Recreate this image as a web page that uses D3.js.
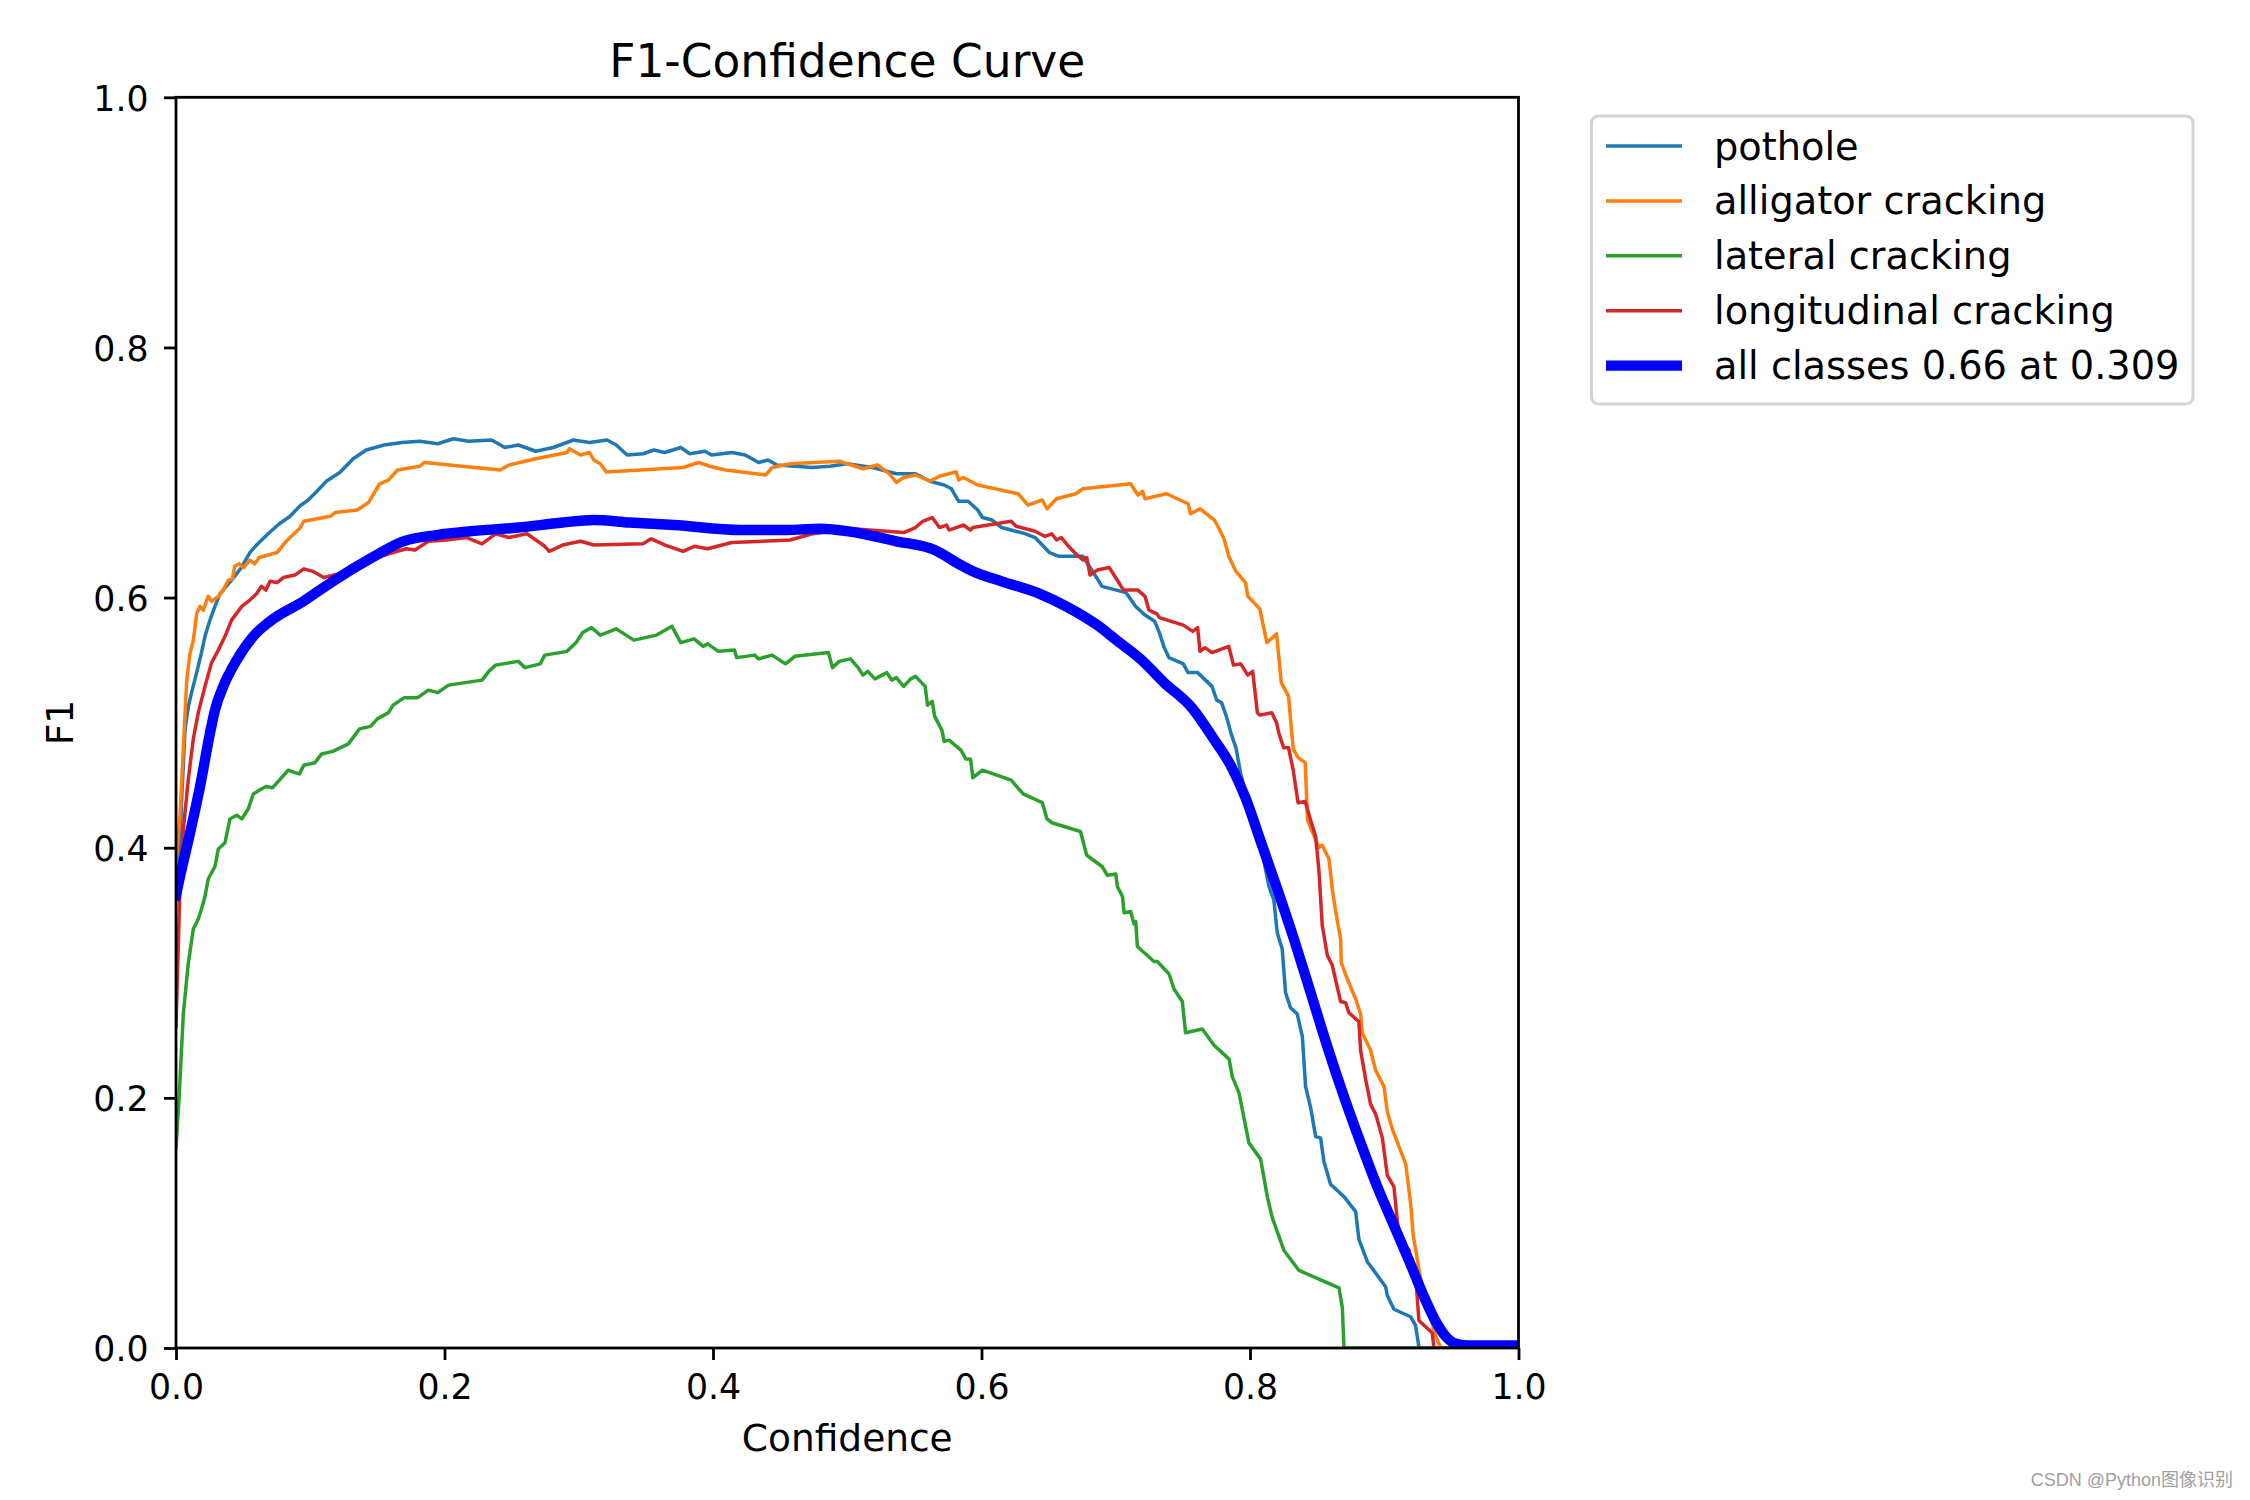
<!DOCTYPE html>
<html>
<head>
<meta charset="utf-8">
<script src="https://cdn.jsdelivr.net/npm/d3@7"></script>
<style>
  html, body { margin: 0; padding: 0; background: #fff; }
  svg { display: block; }
  text { font-family: "DejaVu Sans", sans-serif; fill: #000; }
</style>
</head>
<body>
<svg id="chart" width="2250" height="1500"></svg>
<script>
// ---------------- data ----------------
const chartTitle = "F1-Confidence Curve";
const xLabel = "Confidence";
const yLabel = "F1";
const xTicks = [0, 0.2, 0.4, 0.6, 0.8, 1.0];
const yTicks = [0, 0.2, 0.4, 0.6, 0.8, 1.0];
const classNames = ["pothole", "alligator cracking", "lateral cracking", "longitudinal cracking", "all classes 0.66 at 0.309"];
const classColors = ["#1f77b4", "#ff7f0e", "#2ca02c", "#d62728", "#0000ff"];

const pothole = [
  [0,0.37],[0.0023,0.375],[0.0043,0.441],[0.0067,0.494],[0.0092,0.513],[0.0116,0.524],[0.0154,0.54],[0.019,0.556],
  [0.0216,0.569],[0.0253,0.582],[0.029,0.593],[0.0327,0.603],[0.0414,0.614],[0.0487,0.624],[0.055,0.636],[0.060,0.642],
  [0.0686,0.651],[0.077,0.659],[0.085,0.665],[0.092,0.673],[0.0985,0.678],[0.105,0.685],[0.112,0.693],[0.122,0.70],
  [0.132,0.711],[0.1417,0.718],[0.155,0.722],[0.1683,0.724],[0.1816,0.725],[0.195,0.723],[0.2065,0.727],[0.218,0.725],
  [0.235,0.726],[0.245,0.72],[0.255,0.722],[0.268,0.717],[0.281,0.72],[0.296,0.726],[0.308,0.724],[0.321,0.726],
  [0.328,0.722],[0.336,0.714],[0.348,0.715],[0.356,0.718],[0.364,0.716],[0.376,0.72],[0.3827,0.715],[0.394,0.717],
  [0.399,0.714],[0.414,0.716],[0.424,0.714],[0.434,0.708],[0.441,0.710],[0.4475,0.706],[0.461,0.705],[0.474,0.704],
  [0.487,0.705],[0.50,0.707],[0.5188,0.704],[0.5366,0.699],[0.5509,0.699],[0.5616,0.693],[0.5722,0.69],[0.5776,0.687],
  [0.583,0.677],[0.590,0.677],[0.5972,0.67],[0.6007,0.664],[0.6079,0.662],[0.615,0.656],[0.6328,0.651],[0.6399,0.648],
  [0.6435,0.644],[0.6506,0.636],[0.6577,0.633],[0.6684,0.633],[0.6755,0.633],[0.6827,0.621],[0.6898,0.609],[0.7005,0.606],
  [0.7076,0.604],[0.7147,0.593],[0.7218,0.586],[0.729,0.581],[0.7325,0.572],[0.7361,0.56],[0.7396,0.552],[0.7503,0.547],
  [0.7539,0.54],[0.761,0.54],[0.7717,0.529],[0.7752,0.518],[0.7788,0.516],[0.7824,0.505],[0.786,0.491],[0.7895,0.48],
  [0.7931,0.459],[0.7966,0.444],[0.8073,0.413],[0.8104,0.389],[0.8141,0.369],[0.8178,0.358],[0.8203,0.332],[0.824,0.319],
  [0.8265,0.284],[0.8302,0.272],[0.8352,0.267],[0.839,0.249],[0.8414,0.209],[0.8452,0.192],[0.8489,0.169],[0.8526,0.168],
  [0.8551,0.149],[0.86,0.131],[0.87,0.121],[0.8787,0.109],[0.8811,0.087],[0.8874,0.069],[0.901,0.049],[0.9023,0.042],
  [0.9072,0.031],[0.9196,0.025],[0.9233,0.018],[0.9258,0.001],[0.927,0],[1.0,0]
];

const alligatorCracking = [
  [0,0.388],[0.0031,0.428],[0.0055,0.481],[0.008,0.534],[0.0104,0.555],[0.0129,0.566],[0.0154,0.587],[0.0179,0.593],
  [0.0203,0.59],[0.024,0.601],[0.0265,0.597],[0.0315,0.601],[0.0352,0.606],[0.039,0.614],[0.042,0.615],[0.0437,0.625],
  [0.047,0.627],[0.0503,0.624],[0.055,0.63],[0.0586,0.627],[0.062,0.632],[0.0753,0.636],[0.082,0.645],[0.0919,0.655],
  [0.0952,0.661],[0.115,0.665],[0.1185,0.668],[0.135,0.67],[0.1434,0.676],[0.1517,0.691],[0.1583,0.694],[0.165,0.702],
  [0.1816,0.705],[0.185,0.708],[0.2414,0.702],[0.248,0.706],[0.268,0.711],[0.2913,0.716],[0.293,0.719],[0.3013,0.714],
  [0.308,0.716],[0.3112,0.71],[0.316,0.707],[0.3206,0.7005],[0.3777,0.704],[0.3894,0.708],[0.3976,0.705],[0.4093,0.702],
  [0.4392,0.698],[0.4442,0.704],[0.4575,0.707],[0.494,0.709],[0.5117,0.703],[0.5224,0.706],[0.5313,0.699],[0.5366,0.692],
  [0.542,0.696],[0.5509,0.698],[0.5616,0.693],[0.5687,0.697],[0.5811,0.7005],[0.583,0.694],[0.5865,0.696],[0.5972,0.69],
  [0.6274,0.683],[0.6346,0.674],[0.6453,0.678],[0.6488,0.671],[0.6559,0.679],[0.6702,0.683],[0.6755,0.687],[0.7111,0.691],
  [0.7165,0.682],[0.72,0.685],[0.7218,0.679],[0.7378,0.683],[0.7539,0.675],[0.7557,0.667],[0.7628,0.671],[0.7735,0.662],
  [0.777,0.655],[0.7806,0.647],[0.7842,0.633],[0.7895,0.621],[0.7966,0.612],[0.7984,0.601],[0.8073,0.591],[0.8126,0.564],
  [0.8198,0.571],[0.8233,0.532],[0.8287,0.521],[0.8322,0.479],[0.8358,0.472],[0.8411,0.468],[0.8429,0.422],[0.8514,0.4],
  [0.8538,0.402],[0.8588,0.391],[0.8613,0.367],[0.8638,0.349],[0.8675,0.327],[0.868,0.308],[0.8725,0.295],[0.8787,0.279],
  [0.8824,0.267],[0.8836,0.252],[0.8898,0.238],[0.8936,0.222],[0.8998,0.209],[0.9023,0.189],[0.906,0.175],[0.916,0.147],
  [0.9197,0.115],[0.9216,0.09],[0.9271,0.055],[0.9308,0.038],[0.9345,0.024],[0.9382,0.01],[0.942,0],[1.0,0]
];

const lateralCracking = [
  [0,0.16],[0.0023,0.2],[0.0055,0.268],[0.0092,0.308],[0.0129,0.335],[0.0166,0.343],[0.019,0.351],[0.0216,0.361],
  [0.024,0.375],[0.029,0.385],[0.0315,0.399],[0.0365,0.404],[0.0402,0.423],[0.0452,0.426],[0.049,0.423],[0.0538,0.431],
  [0.0576,0.443],[0.062,0.446],[0.067,0.449],[0.072,0.448],[0.077,0.454],[0.0836,0.462],[0.0885,0.46],[0.0919,0.459],
  [0.0952,0.466],[0.1035,0.468],[0.1085,0.475],[0.1168,0.477],[0.1284,0.483],[0.1367,0.495],[0.145,0.497],[0.15,0.503],
  [0.1583,0.508],[0.1617,0.514],[0.17,0.52],[0.18,0.52],[0.188,0.526],[0.195,0.524],[0.203,0.53],[0.228,0.534],
  [0.233,0.541],[0.238,0.546],[0.255,0.549],[0.26,0.544],[0.2713,0.547],[0.2747,0.554],[0.2913,0.557],[0.298,0.564],
  [0.303,0.572],[0.3096,0.576],[0.316,0.57],[0.328,0.575],[0.341,0.566],[0.358,0.57],[0.3694,0.577],[0.376,0.564],
  [0.386,0.567],[0.3927,0.561],[0.396,0.563],[0.404,0.557],[0.416,0.558],[0.4176,0.552],[0.431,0.554],[0.434,0.551],
  [0.444,0.554],[0.454,0.547],[0.461,0.553],[0.486,0.556],[0.489,0.544],[0.494,0.549],[0.5024,0.551],[0.5081,0.544],
  [0.5117,0.538],[0.5153,0.541],[0.5206,0.535],[0.5295,0.54],[0.5331,0.534],[0.5366,0.536],[0.542,0.529],[0.5473,0.535],
  [0.5509,0.537],[0.558,0.529],[0.5598,0.514],[0.5633,0.517],[0.5651,0.505],[0.5705,0.494],[0.5722,0.485],[0.5758,0.486],
  [0.5847,0.478],[0.5883,0.471],[0.5918,0.471],[0.5936,0.456],[0.6007,0.462],[0.6221,0.454],[0.631,0.443],[0.6453,0.436],
  [0.6488,0.423],[0.6524,0.42],[0.6737,0.413],[0.6784,0.394],[0.6898,0.385],[0.6938,0.378],[0.7,0.379],[0.7012,0.369],
  [0.705,0.361],[0.7062,0.348],[0.7111,0.349],[0.7136,0.339],[0.7149,0.341],[0.7161,0.321],[0.7285,0.309],[0.731,0.309],
  [0.7397,0.299],[0.7434,0.287],[0.7496,0.277],[0.752,0.252],[0.7645,0.255],[0.7732,0.242],[0.7844,0.231],[0.7868,0.217],
  [0.7918,0.204],[0.7992,0.164],[0.8079,0.151],[0.8129,0.121],[0.8166,0.104],[0.8253,0.078],[0.8365,0.062],[0.8663,0.048],
  [0.8688,0.032],[0.87,0],[1.0,0]
];

const longitudinalCracking = [
  [0,0.257],[0.0031,0.375],[0.0055,0.415],[0.0092,0.455],[0.0129,0.487],[0.0166,0.508],[0.0216,0.529],[0.0265,0.548],
  [0.0315,0.558],[0.0365,0.569],[0.0414,0.582],[0.049,0.593],[0.055,0.598],[0.060,0.603],[0.0636,0.609],[0.067,0.606],
  [0.070,0.613],[0.0753,0.612],[0.080,0.616],[0.0885,0.618],[0.0952,0.623],[0.102,0.621],[0.110,0.616],[0.122,0.619],
  [0.132,0.624],[0.145,0.63],[0.1583,0.635],[0.1716,0.639],[0.178,0.638],[0.188,0.645],[0.2015,0.646],[0.2165,0.648],
  [0.228,0.643],[0.238,0.651],[0.248,0.648],[0.2614,0.651],[0.2747,0.641],[0.278,0.637],[0.288,0.642],[0.3013,0.645],
  [0.3112,0.642],[0.3478,0.643],[0.354,0.647],[0.3644,0.642],[0.3777,0.637],[0.386,0.641],[0.396,0.639],[0.414,0.644],
  [0.4575,0.646],[0.474,0.651],[0.504,0.655],[0.542,0.652],[0.5509,0.656],[0.5562,0.661],[0.5633,0.664],[0.5687,0.656],
  [0.574,0.658],[0.5758,0.654],[0.5865,0.658],[0.5918,0.654],[0.5936,0.656],[0.6221,0.661],[0.6257,0.657],[0.6399,0.653],
  [0.647,0.649],[0.6524,0.651],[0.6559,0.646],[0.6595,0.648],[0.6648,0.641],[0.6702,0.635],[0.6755,0.63],[0.6784,0.632],
  [0.6809,0.618],[0.6862,0.622],[0.6951,0.624],[0.7005,0.615],[0.7058,0.606],[0.7165,0.606],[0.7218,0.601],[0.7247,0.59],
  [0.7307,0.587],[0.7325,0.584],[0.7503,0.578],[0.7574,0.573],[0.761,0.576],[0.7628,0.557],[0.7663,0.56],[0.7717,0.556],
  [0.7842,0.561],[0.7877,0.546],[0.7931,0.547],[0.7984,0.538],[0.802,0.541],[0.8055,0.508],[0.8073,0.506],[0.8162,0.508],
  [0.8198,0.5],[0.8216,0.491],[0.8251,0.48],[0.8287,0.48],[0.8322,0.462],[0.8358,0.436],[0.8411,0.437],[0.8452,0.422],
  [0.8489,0.409],[0.8514,0.381],[0.8538,0.338],[0.8576,0.314],[0.8613,0.306],[0.8675,0.277],[0.8712,0.276],[0.8737,0.268],
  [0.8811,0.261],[0.8824,0.238],[0.8861,0.215],[0.8898,0.195],[0.8936,0.187],[0.8986,0.168],[0.9023,0.138],[0.9072,0.129],
  [0.911,0.088],[0.9184,0.078],[0.9209,0.064],[0.9234,0.058],[0.9258,0.022],[0.9358,0.012],[0.937,0],[1.0,0]
];

const allClasses = [
  [0,0.362],[0.003,0.377],[0.0104,0.4115],[0.0179,0.449],[0.0253,0.4915],[0.029,0.510],[0.0352,0.529],[0.0452,0.550],
  [0.0576,0.569],[0.070,0.581],[0.0948,0.597],[0.1197,0.615],[0.1445,0.631],[0.1693,0.645],[0.1942,0.650],[0.219,0.653],
  [0.255,0.656],[0.288,0.66],[0.311,0.662],[0.338,0.66],[0.371,0.658],
  [0.421,0.654],[0.454,0.654],[0.48,0.655],[0.501,0.653],[0.5366,0.645],[0.5651,0.638],[0.583,0.627],[0.5936,0.621],
  [0.615,0.613],[0.6435,0.603],[0.6648,0.592],[0.6862,0.578],[0.7005,0.566],[0.7183,0.551],[0.7361,0.532],[0.7574,0.511],
  [0.7717,0.489],[0.786,0.465],[0.7966,0.44],[0.808,0.405],[0.8203,0.367],[0.8327,0.327],[0.8452,0.284],[0.8576,0.241],
  [0.87,0.201],[0.8824,0.164],[0.8948,0.129],[0.9072,0.098],[0.9196,0.067],[0.9296,0.041],[0.937,0.024],[0.9445,0.011],
  [0.952,0.004],[0.9618,0.002],[1.0,0.002]
];

const seriesList = [pothole, alligatorCracking, lateralCracking, longitudinalCracking, allClasses];
const watermark = "CSDN @Python图像识别";

// ---------------- layout ----------------
const W = 2250, H = 1500;
const plot = { left: 176, right: 1518.5, top: 97.3, bottom: 1348 };

const svg = d3.select("#chart");
svg.append("rect").attr("width", W).attr("height", H).attr("fill", "#fff");

const x = d3.scaleLinear().domain([0, 1]).range([plot.left, plot.right]);
const y = d3.scaleLinear().domain([0, 1]).range([plot.bottom, plot.top]);

svg.append("defs").append("clipPath").attr("id", "plotclip")
  .append("rect")
  .attr("x", plot.left).attr("y", plot.top)
  .attr("width", plot.right - plot.left).attr("height", plot.bottom - plot.top);

// lines
const lineGen = d3.line().x(d => x(d[0])).y(d => y(d[1]));
const smoothGen = d3.line().x(d => x(d[0])).y(d => y(d[1])).curve(d3.curveMonotoneX);

const lines = svg.append("g").attr("clip-path", "url(#plotclip)");
seriesList.forEach((s, i) => {
  const isAll = i === seriesList.length - 1;
  lines.append("path")
    .datum(s)
    .attr("d", isAll ? smoothGen : lineGen)
    .attr("fill", "none")
    .attr("stroke", classColors[i])
    .attr("stroke-width", isAll ? 10.4 : 3.5)
    .attr("stroke-linejoin", "round")
    .attr("stroke-linecap", "square");
});

// axes
const fmt = d3.format(".1f");
const xAxis = svg.append("g")
  .attr("transform", `translate(0,${plot.bottom})`)
  .call(d3.axisBottom(x).tickValues(xTicks).tickFormat(fmt).tickSize(12).tickPadding(0));
const yAxis = svg.append("g")
  .attr("transform", `translate(${plot.left},0)`)
  .call(d3.axisLeft(y).tickValues(yTicks).tickFormat(fmt).tickSize(12).tickPadding(0));

[xAxis, yAxis].forEach(g => {
  g.select(".domain").remove();
  g.selectAll(".tick line").attr("stroke", "#000").attr("stroke-width", 2.8);
  g.selectAll(".tick text")
    .attr("fill", "#000")
    .style("font-family", "'DejaVu Sans', sans-serif")
    .style("font-size", "34.7px");
});
xAxis.selectAll(".tick text").attr("y", 51.3).attr("dy", null);
yAxis.selectAll(".tick text").attr("x", -27.5).attr("dy", null).attr("y", 12.8);

// frame (spines)
svg.append("rect")
  .attr("x", plot.left).attr("y", plot.top)
  .attr("width", plot.right - plot.left).attr("height", plot.bottom - plot.top)
  .attr("fill", "none").attr("stroke", "#000").attr("stroke-width", 2.8);

// title and labels
svg.append("text")
  .attr("x", (plot.left + plot.right) / 2).attr("y", 76.7)
  .attr("text-anchor", "middle").style("font-size", "45.5px")
  .text(chartTitle);
svg.append("text")
  .attr("x", (plot.left + plot.right) / 2).attr("y", 1451)
  .attr("text-anchor", "middle").style("font-size", "37.5px")
  .text(xLabel);
svg.append("text")
  .attr("transform", `translate(72.5,${(plot.top + plot.bottom) / 2}) rotate(-90)`)
  .attr("text-anchor", "middle").style("font-size", "37.5px")
  .text(yLabel);

// legend
const legend = svg.append("g");
legend.append("rect")
  .attr("x", 1591.5).attr("y", 116).attr("width", 601.5).attr("height", 288)
  .attr("rx", 7).attr("ry", 7)
  .attr("fill", "#fff").attr("fill-opacity", 0.8)
  .attr("stroke", "#d4d4d4").attr("stroke-width", 3);
classNames.forEach((name, i) => {
  const cy = 146 + i * 54.9;
  const isAll = i === classNames.length - 1;
  legend.append("line")
    .attr("x1", 1606).attr("x2", 1682).attr("y1", cy).attr("y2", cy)
    .attr("stroke", classColors[i]).attr("stroke-width", isAll ? 10.4 : 3.5)
    .attr("stroke-linecap", "butt");
  legend.append("text")
    .attr("x", 1714).attr("y", cy + 13.5)
    .style("font-size", "38.3px")
    .text(name);
});

// watermark
svg.append("text")
  .attr("x", 2233).attr("y", 1486)
  .attr("text-anchor", "end")
  .style("font-family", "'Liberation Sans', 'Noto Sans CJK SC', sans-serif")
  .style("font-size", "18px")
  .style("fill", "#a0a0a0")
  .text(watermark);
</script>
</body>
</html>
